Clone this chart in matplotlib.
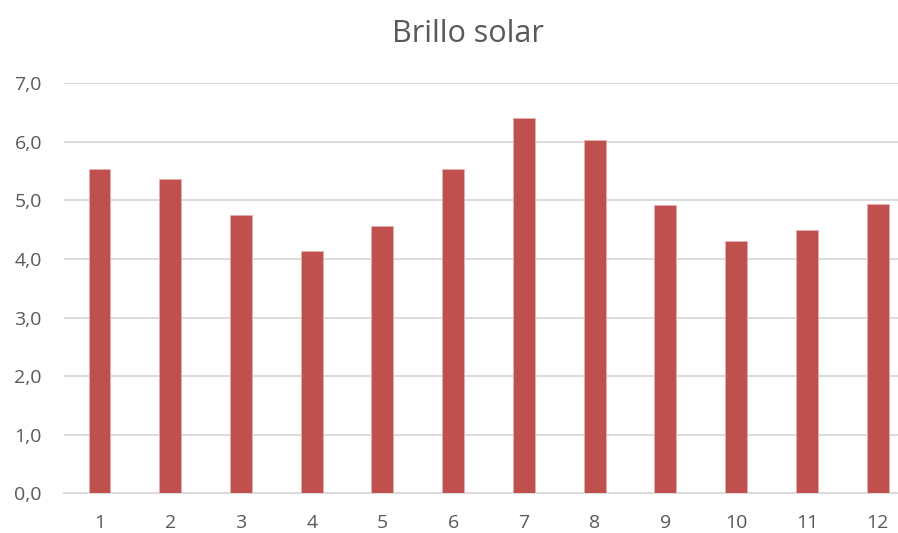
import matplotlib
matplotlib.use("Agg")
import matplotlib.pyplot as plt
from matplotlib.ticker import FuncFormatter, MultipleLocator

months = ["1", "2", "3", "4", "5", "6", "7", "8", "9", "10", "11", "12"]
values = [5.53, 5.37, 4.76, 4.13, 4.56, 5.53, 6.40, 6.03, 4.92, 4.30, 4.50, 4.94]
title = "Brillo solar"

plt.rcParams['font.family'] = ['Open Sans', 'DejaVu Sans']

fig = plt.figure(figsize=(8.98, 5.33), dpi=100)
W, H = 898, 533
left, right = 64.1, 913.0
bottom, top = 493.3, 83.3
ax = fig.add_axes([left / W, 1 - bottom / H, (right - left) / W, (bottom - top) / H])

x = list(range(len(months)))
ax.bar(x, values, width=0.31, color="#C0504D", edgecolor="#E6B0AE", linewidth=0.6, zorder=3)

ax.set_xlim(-0.5, len(months) - 0.5)
ax.set_ylim(0, 7)
ax.yaxis.set_major_locator(MultipleLocator(1))
ax.yaxis.set_major_formatter(FuncFormatter(lambda v, p: f"{v:.1f}".replace(".", ",")))
ax.set_xticks(x)
ax.set_xticklabels(months)

ax.grid(axis="y", color="#D9D9D9", linewidth=1.3, zorder=0)
for s in ["top", "right", "left"]:
    ax.spines[s].set_visible(False)
ax.spines["bottom"].set_color("#D9D9D9")
ax.spines["bottom"].set_linewidth(1.3)
ax.tick_params(axis="both", length=0, labelsize=14, colors="#595959")
ax.tick_params(axis="y", pad=16)
ax.tick_params(axis="x", pad=15)

fig.text(468 / W, 1 - 41.7 / H, title, ha="center", va="baseline", fontsize=22, color="#595959")

fig.savefig("out.png", dpi=100)
